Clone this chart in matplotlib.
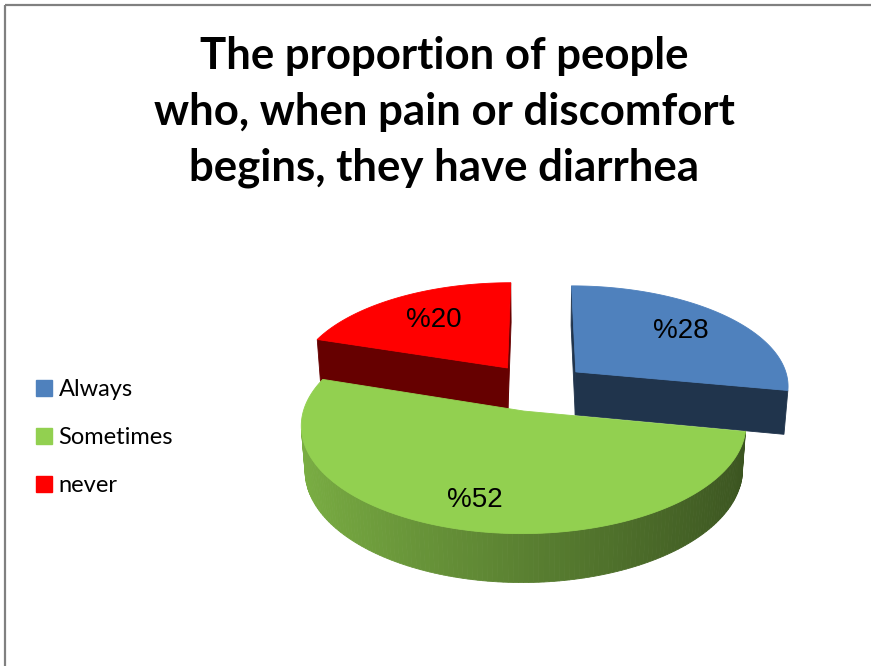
import numpy as np
import matplotlib.pyplot as plt
from matplotlib.patches import Polygon, Patch

# survey answers, percent
labels = ["Always", "Sometimes", "never"]
shares = [28, 52, 20]
top_colors = ["#4f81bd", "#92d050", "#ff0000"]

W, H = 871, 666

# simple perspective camera for the 3-D pie (screen units are pixels)
CX, CY, K = 537, 387, 214
TILT = np.radians(28)
DIST = 7.0
THICK = 0.235
EXPLODE = 0.24
label_r = [0.7, 0.78, 0.66]


def project(x, y, z):
    v = y * np.sin(TILT) + z * np.cos(TILT)
    w = y * np.cos(TILT) - z * np.sin(TILT)
    s = DIST / (DIST + w)
    return CX + K * x * s, CY - K * v * s


def shade(color, f):
    rgb = np.array(plt.matplotlib.colors.to_rgb(color))
    return tuple(np.clip(rgb * f, 0, 1))


cam = np.array([0, -DIST * np.cos(TILT), DIST * np.sin(TILT)])


def facing(normal, centre):
    return np.dot(normal, cam - np.asarray(centre)) > 0


fig = plt.figure(figsize=(W / 100, H / 100), dpi=100)
ax = fig.add_axes([0, 0, 1, 1])
ax.set_xlim(0, W)
ax.set_ylim(H, 0)
ax.axis("off")

# slices start at 12 o'clock and run clockwise
edges = np.radians(np.concatenate([[0], np.cumsum(shares)]) / sum(shares) * 360)
slices = []
for i in range(len(shares)):
    a0, a1 = edges[i], edges[i + 1]
    mid = (a0 + a1) / 2
    off = EXPLODE * np.array([np.sin(mid), np.cos(mid)])
    slices.append((i, a0, a1, mid, off))

# far slices first
slices.sort(key=lambda s: -s[4][1])

for i, a0, a1, mid, off in slices:
    col = top_colors[i]
    ox, oy = off
    t = np.linspace(a0, a1, 160)
    faces = []

    # the two radial cut faces
    for a, n in ((a0, (-np.cos(a0), np.sin(a0), 0)), (a1, (np.cos(a1), -np.sin(a1), 0))):
        rx, ry = ox + np.sin(a), oy + np.cos(a)
        centre = (ox + 0.5 * np.sin(a), oy + 0.5 * np.cos(a), -THICK / 2)
        if facing(np.array(n), centre):
            pts = [project(ox, oy, 0), project(rx, ry, 0),
                   project(rx, ry, -THICK), project(ox, oy, -THICK)]
            faces.append((pts, shade(col, 0.4)))

    # outer wall
    for ta, tb in zip(t[:-1], t[1:]):
        tm = (ta + tb) / 2
        n = np.array([np.sin(tm), np.cos(tm), 0])
        centre = (ox + np.sin(tm), oy + np.cos(tm), -THICK / 2)
        if facing(n, centre):
            pts = [project(ox + np.sin(ta), oy + np.cos(ta), 0),
                   project(ox + np.sin(tb), oy + np.cos(tb), 0),
                   project(ox + np.sin(tb), oy + np.cos(tb), -THICK),
                   project(ox + np.sin(ta), oy + np.cos(ta), -THICK)]
            faces.append((pts, shade(col, 0.62 - 0.22 * np.sin(tm))))

    for pts, c in faces:
        ax.add_patch(Polygon(pts, closed=True, facecolor=c, edgecolor=c, lw=0.6))

    top = [project(ox, oy, 0)] + [project(ox + np.sin(a), oy + np.cos(a), 0) for a in t]
    ax.add_patch(Polygon(top, closed=True, facecolor=col, edgecolor=col, lw=0.6))

    lx, ly = project(ox + label_r[i] * np.sin(mid), oy + label_r[i] * np.cos(mid), 0)
    ax.text(lx, ly, "%" + str(shares[i]), ha="center", va="center",
            fontsize=20, family="Liberation Sans", color="black")

ax.text(444, 112, "The proportion of people\nwho, when pain or discomfort\nbegins, they have diarrhea",
        ha="center", va="center", fontsize=31.5, fontweight="bold", family="Lato",
        linespacing=1.47)

handles = [Patch(facecolor=c, edgecolor=c) for c in top_colors]
ax.legend(handles, labels, loc="upper left", bbox_to_anchor=(27 / W, 1 - 370 / H),
          frameon=False, prop={"family": "Lato", "size": 17}, handlelength=0.64,
          handleheight=0.64, handletextpad=0.3, labelspacing=1.14, borderaxespad=0)

# chart frame (only the top and left sides fall inside the picture)
ax.plot([4.5, W], [4.5, 4.5], color="#808080", lw=1.6, solid_capstyle="butt")
ax.plot([4.5, 4.5], [4.5, H], color="#808080", lw=1.6, solid_capstyle="butt")

fig.savefig("out.png", dpi=100)
